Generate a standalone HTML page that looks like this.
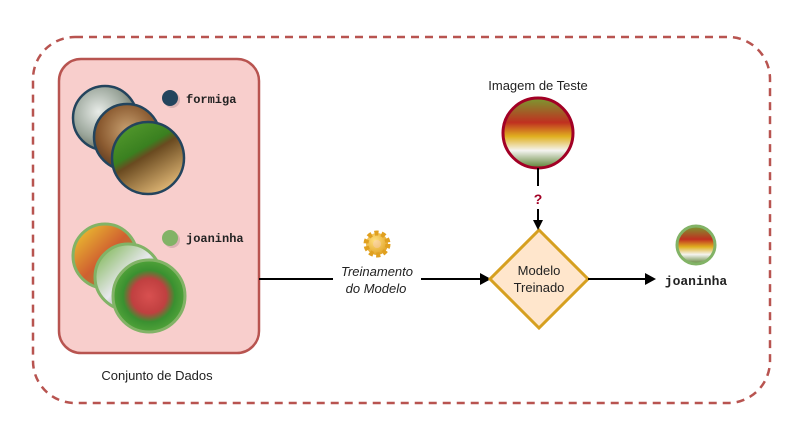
<!DOCTYPE html>
<html><head><meta charset="utf-8"><style>html,body{margin:0;padding:0;background:#fff;}svg{display:block}</style></head>
<body>
<svg width="804" height="427" viewBox="0 0 804 427" xmlns="http://www.w3.org/2000/svg">
<defs>
<radialGradient id="ant1" cx="40%" cy="40%" r="70%"><stop offset="0" stop-color="#e8ece8"/><stop offset="0.6" stop-color="#9aa59a"/><stop offset="1" stop-color="#5a6050"/></radialGradient>
<radialGradient id="ant2" cx="50%" cy="40%" r="70%"><stop offset="0" stop-color="#c8a070"/><stop offset="0.6" stop-color="#8a5a30"/><stop offset="1" stop-color="#4a3020"/></radialGradient>
<linearGradient id="ant3" x1="0" y1="0" x2="0.6" y2="1"><stop offset="0" stop-color="#5aa030"/><stop offset="0.45" stop-color="#3a8020"/><stop offset="0.55" stop-color="#6a4a20"/><stop offset="1" stop-color="#d8b070"/></linearGradient>
<linearGradient id="lb1" x1="0" y1="0" x2="1" y2="1"><stop offset="0" stop-color="#f0d030"/><stop offset="0.5" stop-color="#d06030"/><stop offset="1" stop-color="#70a040"/></linearGradient>
<linearGradient id="lb2" x1="0" y1="0" x2="1" y2="1"><stop offset="0" stop-color="#70b040"/><stop offset="0.5" stop-color="#e8e8ee"/><stop offset="1" stop-color="#404040"/></linearGradient>
<radialGradient id="lb3" cx="50%" cy="50%" r="60%"><stop offset="0" stop-color="#d85050"/><stop offset="0.4" stop-color="#c04040"/><stop offset="0.6" stop-color="#3a9030"/><stop offset="1" stop-color="#60b040"/></radialGradient>
<linearGradient id="test" x1="0" y1="0" x2="0" y2="1"><stop offset="0" stop-color="#7a9a30"/><stop offset="0.35" stop-color="#c03020"/><stop offset="0.55" stop-color="#e0b020"/><stop offset="0.75" stop-color="#f4f4f0"/><stop offset="1" stop-color="#5a8030"/></linearGradient>
<radialGradient id="gear" cx="40%" cy="35%" r="70%"><stop offset="0" stop-color="#ffe080"/><stop offset="1" stop-color="#e0a020"/></radialGradient>
</defs>

<rect x="33" y="37" width="737" height="366" rx="42" fill="none" stroke="#b85450" stroke-width="2.5" stroke-dasharray="8,6"/>
<rect x="59" y="59" width="200" height="294" rx="22" fill="#f8cecc" stroke="#b85450" stroke-width="2.5"/>

<circle cx="105" cy="118" r="32" fill="url(#ant1)" stroke="#23445d" stroke-width="2.5"/>
<circle cx="127" cy="137" r="33" fill="url(#ant2)" stroke="#23445d" stroke-width="2.5"/>
<circle cx="148" cy="158" r="36" fill="url(#ant3)" stroke="#23445d" stroke-width="2.5"/>
<circle cx="172" cy="100" r="8" fill="#c8a0a0" opacity="0.6"/>
<circle cx="170" cy="98" r="8" fill="#23445d"/>
<text x="186" y="103" font-family="Liberation Mono, monospace" font-weight="bold" font-size="12" fill="#222">formiga</text>

<circle cx="105" cy="256" r="32" fill="url(#lb1)" stroke="#82b366" stroke-width="3"/>
<circle cx="128" cy="277" r="33" fill="url(#lb2)" stroke="#82b366" stroke-width="3"/>
<circle cx="149" cy="296" r="36" fill="url(#lb3)" stroke="#82b366" stroke-width="3"/>
<circle cx="172" cy="240" r="8" fill="#c8a0a0" opacity="0.6"/>
<circle cx="170" cy="238" r="8" fill="#82b366"/>
<text x="186" y="242" font-family="Liberation Mono, monospace" font-weight="bold" font-size="12" fill="#222">joaninha</text>

<text x="157" y="380" text-anchor="middle" font-family="Liberation Sans, sans-serif" font-size="13" fill="#222">Conjunto de Dados</text>

<line x1="259" y1="279" x2="333" y2="279" stroke="#000" stroke-width="2"/>
<line x1="421" y1="279" x2="482" y2="279" stroke="#000" stroke-width="2"/>
<path d="M480,273 L491,279 L480,285 Z" fill="#000"/>
<text x="377" y="276" text-anchor="middle" font-family="Liberation Sans, sans-serif" font-style="italic" font-size="13" fill="#222">Treinamento</text>
<text x="376" y="293" text-anchor="middle" font-family="Liberation Sans, sans-serif" font-style="italic" font-size="13" fill="#222">do Modelo</text>
<g transform="translate(377,244)">
<circle r="11" fill="url(#gear)" stroke="#e0a020" stroke-width="5" stroke-dasharray="4,3"/>
<circle r="4" fill="#f8cecc" opacity="0.4"/>
</g>

<path d="M539,230 L588,279 L539,328 L490,279 Z" fill="#ffe6cc" stroke="#d6a020" stroke-width="3"/>
<text x="539" y="275" text-anchor="middle" font-family="Liberation Sans, sans-serif" font-size="13" fill="#222">Modelo</text>
<text x="539" y="292" text-anchor="middle" font-family="Liberation Sans, sans-serif" font-size="13" fill="#222">Treinado</text>

<text x="538" y="90" text-anchor="middle" font-family="Liberation Sans, sans-serif" font-size="13" fill="#222">Imagem de Teste</text>
<circle cx="538" cy="133" r="35" fill="url(#test)" stroke="#a20025" stroke-width="3"/>
<line x1="538" y1="168" x2="538" y2="186" stroke="#000" stroke-width="2"/>
<text x="538" y="204" text-anchor="middle" font-family="Liberation Sans, sans-serif" font-weight="bold" font-size="14" fill="#a20025">?</text>
<line x1="538" y1="209" x2="538" y2="222" stroke="#000" stroke-width="2"/>
<path d="M533,220 L538,230 L543,220 Z" fill="#000"/>

<line x1="588" y1="279" x2="648" y2="279" stroke="#000" stroke-width="2"/>
<path d="M645,273 L656,279 L645,285 Z" fill="#000"/>
<circle cx="696" cy="245" r="19" fill="url(#test)" stroke="#82b366" stroke-width="3"/>
<text x="696" y="285" text-anchor="middle" font-family="Liberation Mono, monospace" font-weight="bold" font-size="13" fill="#222">joaninha</text>
</svg>
</body></html>
